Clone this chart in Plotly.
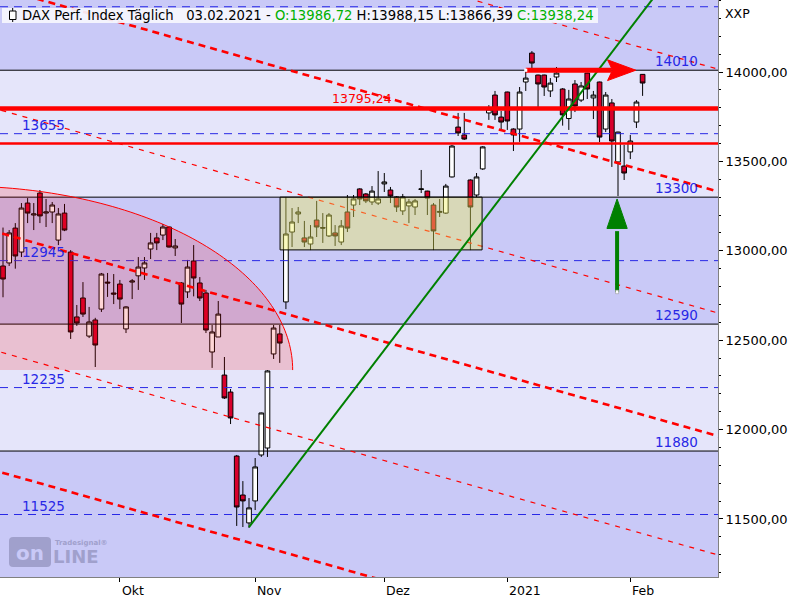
import numpy as np
import pandas as pd
import plotly.graph_objects as go

# ---------------- data ----------------
holidays = ["2020-12-24", "2020-12-25", "2020-12-31", "2021-01-01"]
dates = [d.strftime("%Y-%m-%d") for d in pd.bdate_range("2020-09-04", "2021-02-03")
         if d.strftime("%Y-%m-%d") not in holidays]

open_ = [12915, 12932, 13127, 12993, 13267, 13200, 13323, 13211, 13217, 13060,
         13211, 12993, 12630, 12736, 12523, 12613, 12674, 12825, 12764, 12814,
         12563, 12825, 12860, 12904, 13010, 13072, 13088, 13133, 13016, 12820,
         12770, 12943, 12820, 12764, 12434, 12518, 12305, 12210, 11852, 11634,
         11478, 11601, 11858, 11897, 12423, 12535, 12714, 13105, 13206, 13072,
         13038, 13172, 13130, 13083, 13100, 13049, 13217, 13256, 13346, 13318,
         13273, 13267, 13374, 13340, 13301, 13223, 13251, 13245, 13343, 13334,
         13256, 13215, 13211, 13413, 13692, 13648, 13396, 13312, 13458, 13771,
         13871, 13748, 13888, 13681, 13681, 13944, 14106, 13983, 13983, 13894,
         13972, 13905, 13740, 13933, 13843, 13994, 13855, 13944, 13681, 13827,
         13497, 13474, 13553, 13720, 13986.72]
high = [13130, 13116, 13155, 13267, 13295, 13267, 13340, 13290, 13273, 13239,
        13262, 13004, 12697, 12825, 12686, 12625, 12876, 12876, 12870, 12837,
        12690, 12842, 12965, 12965, 13100, 13100, 13150, 13135, 13066, 12825,
        12949, 13032, 12853, 12781, 12585, 12719, 12406, 12227, 11858, 11712,
        11617, 11841, 12095, 12333, 12585, 12585, 13301, 13239, 13245, 13167,
        13144, 13279, 13211, 13211, 13144, 13172, 13312, 13312, 13350, 13323,
        13362, 13446, 13435, 13357, 13306, 13318, 13290, 13290, 13452, 13336,
        13267, 13290, 13374, 13592, 13771, 13771, 13400, 13435, 13586, 13815,
        13894, 13782, 13890, 13685, 13916, 14011, 14117, 13985, 13985, 13966,
        14028, 13910, 13900, 13955, 13944, 13996, 13894, 13946, 13888, 13849,
        13666, 13592, 13648, 13843, 13988.15]
low = [12740, 12915, 12900, 12965, 13155, 13116, 13155, 13133, 13155, 13032,
       13110, 12507, 12580, 12630, 12512, 12350, 12658, 12742, 12702, 12674,
       12540, 12730, 12781, 12837, 12954, 13004, 13060, 13018, 12971, 12596,
       12736, 12745, 12719, 12540, 12345, 12518, 12171, 12031, 11461, 11455,
       11450, 11550, 11847, 11847, 12395, 12373, 12674, 13021, 13155, 13021,
       13004, 13077, 13044, 13077, 13027, 13032, 13105, 13189, 13256, 13267,
       13256, 13256, 13329, 13267, 13217, 13200, 13155, 13200, 13323, 13200,
       13004, 13189, 13206, 13410, 13642, 13620, 13004, 13301, 13452, 13732,
       13732, 13676, 13676, 13558, 13609, 13894, 14017, 13804, 13866, 13860,
       13944, 13700, 13676, 13776, 13832, 13849, 13737, 13608, 13664, 13469,
       13306, 13396, 13513, 13687, 13866.39]
close = [12842, 13100, 12971, 13239, 13211, 13206, 13195, 13217, 13256, 13206,
         13116, 12546, 12596, 12646, 12602, 12473, 12870, 12820, 12758, 12730,
         12686, 12831, 12909, 12932, 13044, 13044, 13133, 13021, 13027, 12702,
         12909, 12848, 12736, 12557, 12546, 12646, 12177, 12065, 11567, 11601,
         11562, 11791, 12093, 12328, 12568, 12484, 13094, 13161, 13217, 13049,
         13077, 13133, 13127, 13200, 13083, 13139, 13127, 13290, 13290, 13279,
         13334, 13290, 13385, 13306, 13245, 13301, 13273, 13279, 13346, 13295,
         13111, 13220, 13362, 13586, 13659, 13625, 13245, 13413, 13581, 13793,
         13760, 13720, 13726, 13648, 13888, 13966, 14050, 13933, 13916, 13938,
         13994, 13760, 13849, 13810, 13922, 13905, 13871, 13636, 13871, 13614,
         13664, 13435, 13614, 13832, 13938.24]

month_ticks = ["2020-10-01", "2020-11-02", "2020-12-01", "2021-01-04", "2021-02-01"]
month_labels = ["Okt", "Nov", "Dez", "2021", "Feb"]

black_levels = [14010, 13300, 12590, 11880]
blue_levels = [14365, 13655, 12945, 12235, 11525]
blue_labels = ["", "13655", "12945", "12235", "11525"]
red_levels = [13795.24, 13600]
red_widths = [4.5, 2.5]

channel_start = [15147, 14463, 13783, 13095, 12430, 11758]   # price at first bar
channel_thick = [False, True, False, True, False, True]
channel_slope = -9.73                                          # points per bar

trend_start = ("2020-10-30", 11455)
trend_slope = 45.0

box_dates = ("2020-11-06", "2020-12-23")
box_prices = (13005, 13300)

arc_center = (-7.0, 12333)
arc_radii = (54.1, 1029)

arrow_red = ("2021-01-07", "2021-02-03", 14010)
arrow_green = ("2021-01-28", 12770, 13290)

# ---------------- helpers ----------------
idx = list(range(len(dates)))
pos = {d: i for i, d in enumerate(dates)}
X0, X1 = -0.49, 116.26
Y0, Y1 = 11175.5, 14402.7
PW, PH = 718.0, 577.0
DARK = "#C9C9F7"
LIGHT = "#E5E5FA"
BLUE = "#2828E6"
RED = "#FF0000"
GREEN = "#008000"
LOGO = "#A0A0CC"


def px(x):
    return x / PW


def py(y):
    return (PH - y) / PH


fmt = lambda v: f"{v:.2f}".replace(".", ",")

fig = go.Figure()
fig.add_trace(go.Candlestick(
    x=idx, open=open_, high=high, low=low, close=close,
    increasing=dict(line=dict(color="black", width=1), fillcolor="white"),
    decreasing=dict(line=dict(color="black", width=1), fillcolor="#D8002C"),
    whiskerwidth=0, hoverinfo="skip"))

shapes = []
# bands
shapes.append(dict(type="rect", xref="paper", x0=0, x1=1, yref="y", y0=black_levels[1], y1=black_levels[0],
                   fillcolor=LIGHT, line=dict(width=0), layer="below"))
shapes.append(dict(type="rect", xref="paper", x0=0, x1=1, yref="y", y0=black_levels[3], y1=black_levels[2],
                   fillcolor=LIGHT, line=dict(width=0), layer="below"))
# black levels
for lv in black_levels:
    shapes.append(dict(type="line", xref="paper", x0=0, x1=1, yref="y", y0=lv, y1=lv,
                       line=dict(color="black", width=1), layer="above"))
# blue dashed levels
for lv in blue_levels:
    shapes.append(dict(type="line", xref="paper", x0=0, x1=1, yref="y", y0=lv, y1=lv,
                       line=dict(color=BLUE, width=1, dash="8px,6px"), layer="above"))
# red dashed channel lines
for p0, thick in zip(channel_start, channel_thick):
    xa, xb = -2, 120
    shapes.append(dict(type="line", xref="x", yref="y", x0=xa, x1=xb,
                       y0=p0 + channel_slope * xa, y1=p0 + channel_slope * xb,
                       line=dict(color=RED, width=2.6 if thick else 1.2,
                                 dash="7px,5px" if thick else "5px,6px"), layer="above"))
# ellipse segment
kc, pc = arc_center
ra, rb = arc_radii
t = np.linspace(0, np.pi / 2, 80)
ak = kc + ra * np.cos(t)
ap = pc + rb * np.sin(t)
arc = " ".join(f"L{k:.3f},{p:.2f}" for k, p in zip(ak, ap))
shapes.append(dict(type="path", xref="x", yref="y",
                   path=f"M{kc},{pc} L{ak[0]:.3f},{ap[0]:.2f} {arc} Z",
                   fillcolor="rgba(255,0,0,0.16)", line=dict(width=0), layer="above"))
shapes.append(dict(type="path", xref="x", yref="y",
                   path="M" + arc[1:],
                   fillcolor="rgba(0,0,0,0)", line=dict(color=RED, width=1), layer="above"))
# olive box
shapes.append(dict(type="rect", xref="x", yref="y",
                   x0=pos[box_dates[0]] + 0.05, x1=pos[box_dates[1]] - 0.1,
                   y0=box_prices[0], y1=box_prices[1],
                   fillcolor="rgba(240,240,90,0.4)", line=dict(color="black", width=1), layer="above"))
# red levels
for lv, w in zip(red_levels, red_widths):
    shapes.append(dict(type="line", xref="paper", x0=0, x1=1, yref="y", y0=lv, y1=lv,
                       line=dict(color=RED, width=w), layer="above"))
# green trend line
ks = pos[trend_start[0]]
ke = 115
shapes.append(dict(type="line", xref="x", yref="y", x0=ks, x1=ke,
                   y0=trend_start[1], y1=trend_start[1] + trend_slope * (ke - ks),
                   line=dict(color=GREEN, width=2), layer="above"))
# red arrow
ra0, ra1, rlev = pos[arrow_red[0]], pos[arrow_red[1]], arrow_red[2]
shapes.append(dict(type="line", xref="x", yref="y", x0=ra0, x1=ra1 - 5.0, y0=rlev, y1=rlev,
                   line=dict(color=RED, width=5), layer="above"))
shapes.append(dict(type="path", xref="x", yref="y",
                   path=f"M{ra1-5.7},{rlev+58} L{ra1-1.1},{rlev} L{ra1-5.7},{rlev-58} L{ra1-4.9},{rlev} Z",
                   fillcolor=RED, line=dict(color=RED, width=1), layer="above"))
shapes.append(dict(type="rect", xref="x", yref="y", x0=ra0 - 0.25, x1=ra0 + 0.25, y0=rlev - 9, y1=rlev + 9,
                   fillcolor="white", line=dict(width=0), layer="above"))
# green arrow
ga, gb, gt = pos[arrow_green[0]], arrow_green[1], arrow_green[2]
shapes.append(dict(type="line", xref="x", yref="y", x0=ga - 0.15, x1=ga - 0.15, y0=gb, y1=gt - 180,
                   line=dict(color=GREEN, width=4), layer="above"))
shapes.append(dict(type="path", xref="x", yref="y",
                   path=f"M{ga-1.8},{gt-165} L{ga-0.15},{gt} L{ga+1.5},{gt-165} Z",
                   fillcolor=GREEN, line=dict(color=GREEN, width=1), layer="above"))
shapes.append(dict(type="rect", xref="x", yref="y", x0=ga - 0.4, x1=ga + 0.1, y0=gb - 10, y1=gb + 10,
                   fillcolor="white", line=dict(color="#888888", width=0.5), layer="above"))
# header box and icon
shapes.append(dict(type="rect", xref="paper", yref="paper", x0=px(2), x1=px(598), y0=py(23), y1=py(8),
                   fillcolor="rgba(246,246,253,0.92)", line=dict(width=0), layer="above"))
shapes.append(dict(type="line", xref="paper", yref="paper", x0=px(12.7), x1=px(12.7), y0=py(22), y1=py(8),
                   line=dict(color="black", width=1), layer="above"))
shapes.append(dict(type="rect", xref="paper", yref="paper", x0=px(9.5), x1=px(16), y0=py(19.5), y1=py(11),
                   fillcolor="white", line=dict(color="black", width=1), layer="above"))
# logo
shapes.append(dict(type="path", xref="paper", yref="paper",
                   path=f"M{px(13)},{py(537)} L{px(47)},{py(537)} Q{px(51)},{py(537)} {px(51)},{py(541)} "
                        f"L{px(51)},{py(563)} Q{px(51)},{py(567)} {px(47)},{py(567)} L{px(13)},{py(567)} "
                        f"Q{px(9)},{py(567)} {px(9)},{py(563)} L{px(9)},{py(541)} Q{px(9)},{py(537)} {px(13)},{py(537)} Z",
                   fillcolor=LOGO, line=dict(width=0), layer="above"))

annotations = []
# header text
hdr = ("DAX Perf. Index Täglich\u00a0\u00a0\u00a0" + "03.02.2021 - "
       f"<span style='color:#00B000'>O:{fmt(open_[-1])}</span> H:{fmt(high[-1])} "
       f"L:{fmt(low[-1])} <span style='color:#00B000'>C:{fmt(close[-1])}</span>")
annotations.append(dict(xref="paper", yref="paper", x=px(20), y=py(15), text=hdr, showarrow=False,
                        xanchor="left", yanchor="middle", font=dict(size=13.2, color="black")))
annotations.append(dict(xref="paper", yref="paper", x=px(723), y=py(13), text="XXP", showarrow=False,
                        xanchor="left", yanchor="middle", font=dict(size=12.5, color="black")))
# month labels
for d, lab in zip(month_ticks, month_labels):
    annotations.append(dict(xref="x", yref="paper", x=pos[d], y=py(590), text=lab, showarrow=False,
                            xanchor="left", yanchor="middle", xshift=0, font=dict(size=12.5, color="black")))
# level labels
for lv in black_levels:
    annotations.append(dict(xref="x", yref="y", x=113.3, y=lv, text=str(lv), showarrow=False,
                            xanchor="right", yanchor="bottom", yshift=-1, font=dict(size=13.5, color=BLUE)))
for lv, lab in zip(blue_levels, blue_labels):
    if lab:
        annotations.append(dict(xref="x", yref="y", x=2.7, y=lv, text=lab, showarrow=False,
                                xanchor="left", yanchor="bottom", yshift=-1, font=dict(size=13.5, color=BLUE)))
annotations.append(dict(xref="x", yref="y", x=58.4, y=red_levels[0], text=fmt(red_levels[0]), showarrow=False,
                        xanchor="center", yanchor="bottom", yshift=1, font=dict(size=12.5, color=RED)))
# logo text
annotations.append(dict(xref="paper", yref="paper", x=px(30), y=py(553), text="<b>on</b>", showarrow=False,
                        xanchor="center", yanchor="middle", font=dict(size=20, color=DARK)))
annotations.append(dict(xref="paper", yref="paper", x=px(51), y=py(556), text="<b>LINE</b>", showarrow=False,
                        xanchor="left", yanchor="middle", font=dict(size=18, color=LOGO)))
annotations.append(dict(xref="paper", yref="paper", x=px(53), y=py(543), text="<b>Tradesignal®</b>", showarrow=False,
                        xanchor="left", yanchor="middle", font=dict(size=7, color=LOGO)))

fig.update_layout(
    width=800, height=600, margin=dict(l=0, r=82, t=0, b=23),
    paper_bgcolor="white", plot_bgcolor=DARK, showlegend=False, separators=",.",
    boxgap=0.05, boxgroupgap=0.2, font=dict(family="DejaVu Sans", size=13, color="black"),
    shapes=shapes, annotations=annotations,
    xaxis=dict(range=[X0, X1], showgrid=False, zeroline=False,
               tickvals=[pos[d] for d in month_ticks], ticktext=[""] * len(month_ticks),
               ticks="outside", ticklen=4, tickcolor="black", showline=True, linecolor="#808080",
               linewidth=1, rangeslider=dict(visible=False), fixedrange=True),
    yaxis=dict(side="right", range=[Y0, Y1], showgrid=False, zeroline=False, tick0=0, dtick=500,
               tickformat=".2f", ticks="outside", ticklen=4, tickcolor="black",
               minor=dict(dtick=100, ticks="outside", ticklen=2, tickcolor="black"),
               showline=True, linecolor="#808080", linewidth=1, mirror=True,
               tickfont=dict(size=13, color="black"), fixedrange=True),
)

fig.write_html("out.html", config={"displayModeBar": False},
               post_script="document.body.style.margin='0';document.body.style.overflow='hidden';")
